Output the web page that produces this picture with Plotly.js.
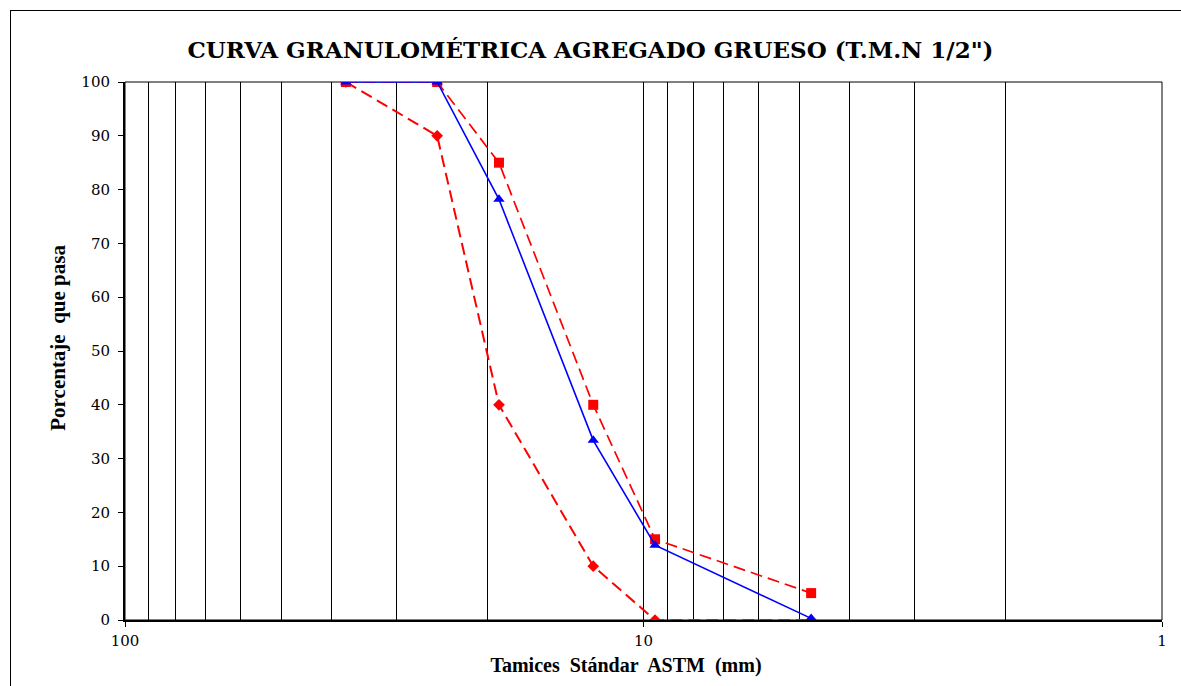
<!DOCTYPE html>
<html>
<head>
<meta charset="utf-8">
<script src="https://cdn.plot.ly/plotly-3.0.1.min.js"></script>
<style>
  html, body { margin: 0; padding: 0; background: #fff; }
  #wrap { position: relative; width: 1181px; height: 686px; overflow: hidden; }
  #chart { position: absolute; left: 0; top: 0; width: 1181px; height: 686px; }
  #frame { position: absolute; left: 10px; top: 10px; width: 1200px; height: 700px;
           border-left: 1px solid #000; border-top: 1px solid #000; pointer-events: none; }
</style>
</head>
<body>
<div id="wrap">
  <div id="chart"></div>
  <div id="frame"></div>
</div>
<script>
// Sieve openings (mm)
const sieves = [37.5, 25, 19, 12.5, 9.5, 4.75];
// Upper limit (squares)
const limiteSuperior = [100, 100, 85, 40, 15, 5];
// Lower limit (diamonds)
const limiteInferior = [100, 90, 40, 10, 0, 0];
// Sample curve (triangles)
const muestra = [100, 100, 78.2, 33.4, 13.9, 0.3];
// Axis tick values
const xMajorTicks = [100, 10, 1];
const xTickText = ['100', '10', '1'];
const yTicks = [0, 10, 20, 30, 40, 50, 60, 70, 80, 90, 100];

const minorGrid = [];
[10, 1].forEach(dec => { for (let k = 9; k >= 2; k--) minorGrid.push(k * dec); });

const FONT = 'Liberation Serif';
const FONT2 = 'DejaVu Serif';

const traces = [
  { x: sieves, y: limiteInferior, type: 'scatter', mode: 'lines+markers', name: 'Límite inferior',
    line: { color: '#FF0000', width: 2, dash: '12px,6px' },
    marker: { symbol: 'diamond', size: 9, color: '#FF0000' } },
  { x: sieves, y: limiteSuperior, type: 'scatter', mode: 'lines+markers', name: 'Límite superior',
    line: { color: '#FF0000', width: 1.7, dash: '12px,6px' },
    marker: { symbol: 'square', size: 10, color: '#FF0000' } },
  { x: sieves, y: muestra, type: 'scatter', mode: 'lines+markers', name: 'Muestra',
    line: { color: '#0000FF', width: 1.6 },
    marker: { symbol: 'triangle-up', size: 10, color: '#0000FF' } }
];

const layout = {
  width: 1181, height: 686,
  margin: { l: 125, r: 19, t: 82, b: 66 },
  paper_bgcolor: '#fff', plot_bgcolor: '#fff',
  showlegend: false,
  font: { family: FONT, color: '#000' },
  title: {
    text: '<b>CURVA GRANULOMÉTRICA AGREGADO GRUESO (T.M.N 1/2")</b>',
    font: { family: FONT2, size: 23, color: '#000' },
    x: 0.5, xref: 'container', xanchor: 'center',
    y: 1 - 50 / 686, yref: 'container', yanchor: 'middle'
  },
  xaxis: {
    type: 'log', range: [2, 0], autorange: false,
    tickmode: 'array', tickvals: xMajorTicks, ticktext: xTickText,
    ticks: 'outside', ticklen: 5, tickcolor: '#000', ticklabelstandoff: 1,
    tickfont: { family: FONT2, size: 15, color: '#000' },
    showgrid: true, gridcolor: '#000', gridwidth: 1,
    minor: { tickmode: 'array', tickvals: minorGrid, showgrid: true, gridcolor: '#000', gridwidth: 1, ticks: '' },
    showline: true, linecolor: '#000', linewidth: 2, zeroline: false,
    title: { text: '<b>Tamices  Stándar  ASTM  (mm)&nbsp;&nbsp;&nbsp;&nbsp;&nbsp;&nbsp;&nbsp;</b>',
             font: { family: FONT, size: 20, color: '#000' }, standoff: 9 }
  },
  yaxis: {
    range: [0, 100], autorange: false, tickmode: 'array', tickvals: yTicks,
    ticks: 'outside', ticklen: 5, tickcolor: '#000', ticklabelstandoff: 5,
    tickfont: { family: FONT2, size: 15, color: '#000' },
    showgrid: false, zeroline: false, showline: true, linecolor: '#000', linewidth: 2,
    title: { text: '<b>&nbsp;&nbsp;&nbsp;&nbsp;&nbsp;Porcentaje  que pasa</b>',
             font: { family: FONT, size: 21, color: '#000' }, standoff: 10 }
  },
  shapes: [
    { type: 'rect', xref: 'paper', yref: 'paper', x0: 0, x1: 1, y0: 0, y1: 1,
      line: { color: '#000', width: 1 }, layer: 'below' }
  ]
};

Plotly.newPlot('chart', traces, layout, { staticPlot: true, displayModeBar: false });
</script>
</body>
</html>
